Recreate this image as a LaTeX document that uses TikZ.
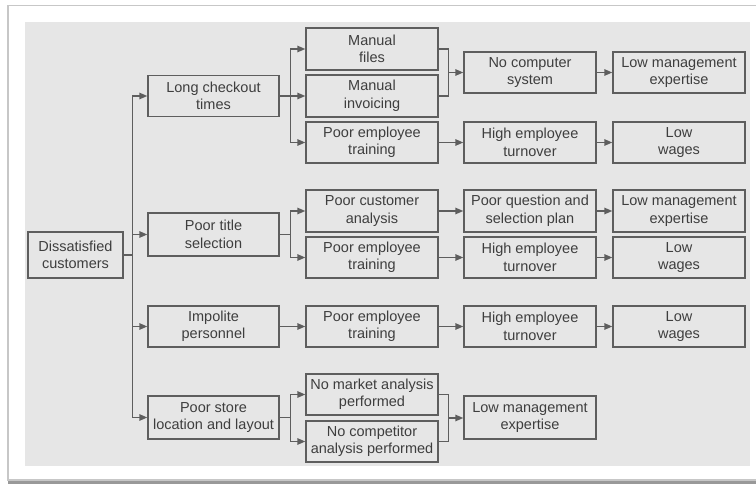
\documentclass[tikz,border=0pt]{standalone}
\usepackage{fontspec}
\setmainfont{Liberation Sans}
\usetikzlibrary{arrows.meta,calc}

\definecolor{panel}{HTML}{E6E6E6}
\definecolor{edge}{HTML}{5E5E5E}
\definecolor{ink}{HTML}{3E3E3E}

\tikzset{
  cause/.style={draw=edge, line width=1.4pt, fill=panel, text=ink,
    minimum width=132pt, minimum height=41pt, inner sep=0pt,
    align=center, font=\fontsize{14.5}{17.5}\selectfont},
  rootbox/.style={cause, minimum width=95pt, minimum height=46pt},
  link/.style={draw=edge, line width=1.4pt},
  arr/.style={link, -{Triangle[length=8pt,width=6.5pt]}}
}

\begin{document}
\begin{tikzpicture}[x=1pt,y=-1pt]
  \useasboundingbox (0,0) rectangle (756,486);
  % page card with its shadow
  \fill[white] (0,0) rectangle (756,486);
  \fill[black!40] (8,480) rectangle (756,484);
  \fill[black!22] (7,5) rectangle (756,481);
  \fill[white] (9,6) rectangle (756,479.5);
  \fill[panel] (25,22) rectangle (750,466);

  % root and first-level causes
  \node[rootbox] (dc)  at (75.5,255)  {Dissatisfied\\customers};
  \node[cause, minimum width=131pt] (lct) at (213.5,96)    {Long checkout\\times};
  \node[cause, minimum width=131pt, minimum height=43pt] (pts) at (213.5,234.5) {Poor title\\selection};
  \node[cause, minimum width=131pt] (imp) at (213.5,326.5)  {Impolite\\personnel};
  \node[cause, minimum width=131pt, minimum height=43pt] (psl) at (213.5,417.5) {Poor store\\location and layout};

  % second level
  \node[cause, minimum height=42pt] (mf)   at (372,49)    {Manual\\files};
  \node[cause, minimum height=42pt] (mi)   at (372,96)    {Manual\\invoicing};
  \node[cause] (pet1) at (372,142.5) {Poor employee\\training};
  \node[cause, minimum height=42pt] (pca)  at (372,211)   {Poor customer\\analysis};
  \node[cause] (pet2) at (372,257.5) {Poor employee\\training};
  \node[cause] (pet3) at (372,326.5) {Poor employee\\training};
  \node[cause] (nma)  at (372,394.5) {No market analysis\\performed};
  \node[cause] (nca)  at (372,441.5) {No competitor\\analysis performed};

  % third level
  \node[cause] (ncs)  at (530,72.5)  {No computer\\system};
  \node[cause] (het1) at (530,142.5) {High employee\\turnover};
  \node[cause, minimum height=42pt] (pqs)  at (530,211)   {Poor question and\\selection plan};
  \node[cause] (het2) at (530,257.5) {High employee\\turnover};
  \node[cause] (het3) at (530,326.5) {High employee\\turnover};
  \node[cause, minimum height=43pt] (lme3) at (530,417.5) {Low management\\expertise};

  % fourth level
  \node[cause] (lme1) at (679,72.5)  {Low management\\expertise};
  \node[cause] (lw1)  at (679,142.5) {Low\\wages};
  \node[cause, minimum height=42pt] (lme2) at (679,211)   {Low management\\expertise};
  \node[cause] (lw2)  at (679,257.5) {Low\\wages};
  \node[cause] (lw3)  at (679,326.5) {Low\\wages};

  % root fan-out
  \draw[link] (dc.east) -- ++(9,0) coordinate (t0);
  \foreach \n in {lct,pts,imp,psl} \draw[arr] (t0) |- (\n.west);

  % first-level fan-outs
  \draw[link] (lct.east) -- ++(11,0) coordinate (t1);
  \foreach \n in {mf,mi,pet1} \draw[arr] (t1) |- (\n.west);
  \draw[link] (pts.east) -- ++(11,0) coordinate (t2);
  \foreach \n in {pca,pet2} \draw[arr] (t2) |- (\n.west);
  \draw[arr] (imp) -- (pet3);
  \draw[link] (psl.east) -- ++(11,0) coordinate (t4);
  \foreach \n in {nma,nca} \draw[arr] (t4) |- (\n.west);

  % brackets joining two causes
  \coordinate (b1) at ($(mf.east)!0.5!(mi.east)+(10,0)$);
  \draw[link] (mf.east) -| (b1) |- (mi.east);
  \draw[arr] (b1) -- (ncs.west);
  \coordinate (b2) at ($(nma.east)!0.5!(nca.east)+(10,0)$);
  \draw[link] (nma.east) -| (b2) |- (nca.east);
  \draw[arr] (b2) -- (b2 -| lme3.west);

  % chains
  \draw[arr] (ncs) -- (lme1);
  \draw[arr] (pet1) -- (het1);
  \draw[arr] (het1) -- (lw1);
  \draw[arr] (pca) -- (pqs);
  \draw[arr] (pqs) -- (lme2);
  \draw[arr] (pet2) -- (het2);
  \draw[arr] (het2) -- (lw2);
  \draw[arr] (pet3) -- (het3);
  \draw[arr] (het3) -- (lw3);
\end{tikzpicture}
\end{document}
